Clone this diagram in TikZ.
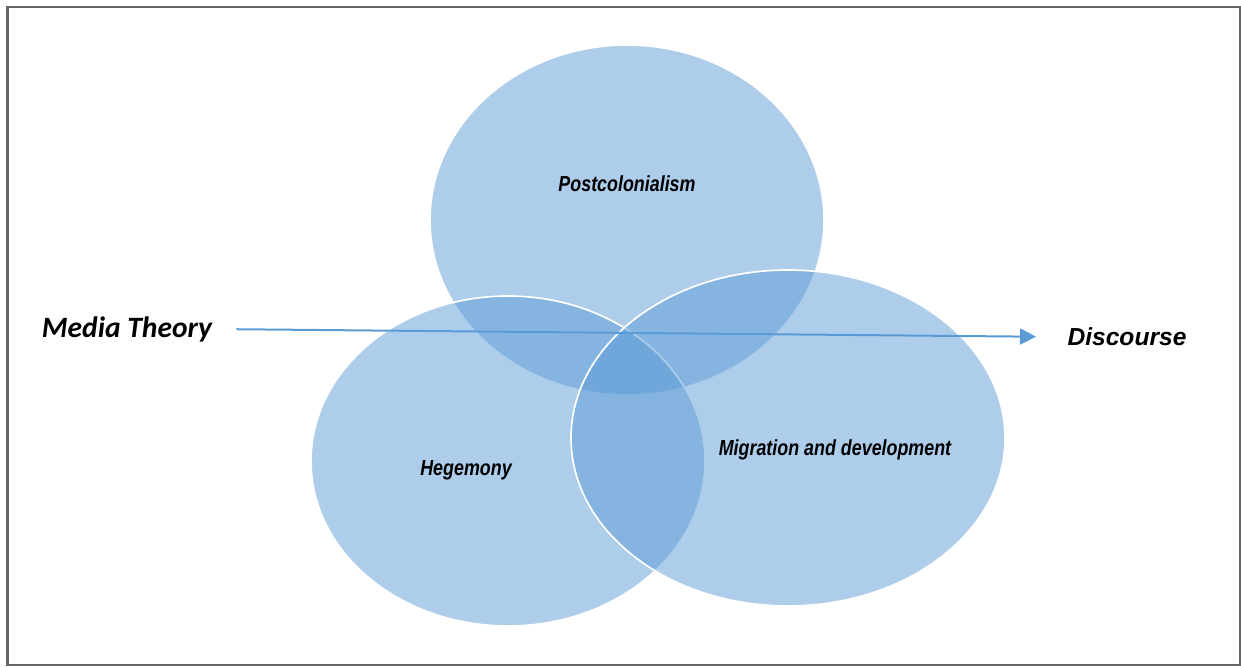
\documentclass[tikz,border=0pt]{standalone}
\usepackage{fontspec}
\setmainfont{Liberation Sans}
\newfontfamily\calfont{Carlito}
\newfontfamily\narrowfont[FakeStretch=0.82]{Liberation Sans}
\usetikzlibrary{
  arrows.meta,  % Tip "Triangle"
  shapes,
}
\definecolor{vennblue}{RGB}{91,155,213}
\tikzset{
  venn/.style={
    fill=vennblue,
    fill opacity=0.5,
    draw=white,
    line width=1.2pt
  },
  circle label/.style={
    font=\narrowfont\bfseries\itshape\fontsize{15.5}{18}\selectfont,
    inner sep=0pt
  },
  side label/.style={
    inner sep=0pt
  },
  arw/.style={
    -{Triangle[length=0.4cm,width=0.4cm]},
    draw=vennblue,
    line width=0.05cm,
    shorten <=0.6cm,
    shorten >=0.78cm
  },
  frame/.style={
    draw=black!60,
    line width=0.05cm
  }
}
\begin{document}
\begin{tikzpicture}[x=0.025cm,y=-0.025cm]
\useasboundingbox (0,0) rectangle (1241,666);
\draw[frame] (7.5,7) rectangle (1239.5,664.5);
% the three sets
\path[venn] (627,220) ellipse [x radius=197, y radius=175];
\path[venn] (508,461) ellipse [x radius=197, y radius=165];
\path[venn] (788,438) ellipse [x radius=217, y radius=168];
\node[circle label] (post) at (627,184) {Postcolonialism};
\node[circle label] (heg)  at (466,470) {Hegemony};
\node[circle label] (mig)  at (835,450) {Migration and development};
\node[side label,font=\calfont\bfseries\itshape\fontsize{21}{25}\selectfont]
  (media) at (127,329) {Media Theory};
\node[side label,font=\bfseries\itshape\fontsize{17.5}{21}\selectfont]
  (disc) at (1127,337) {Discourse};
\draw[arw] (media.east) -- (disc.west);
\end{tikzpicture}
\end{document}
